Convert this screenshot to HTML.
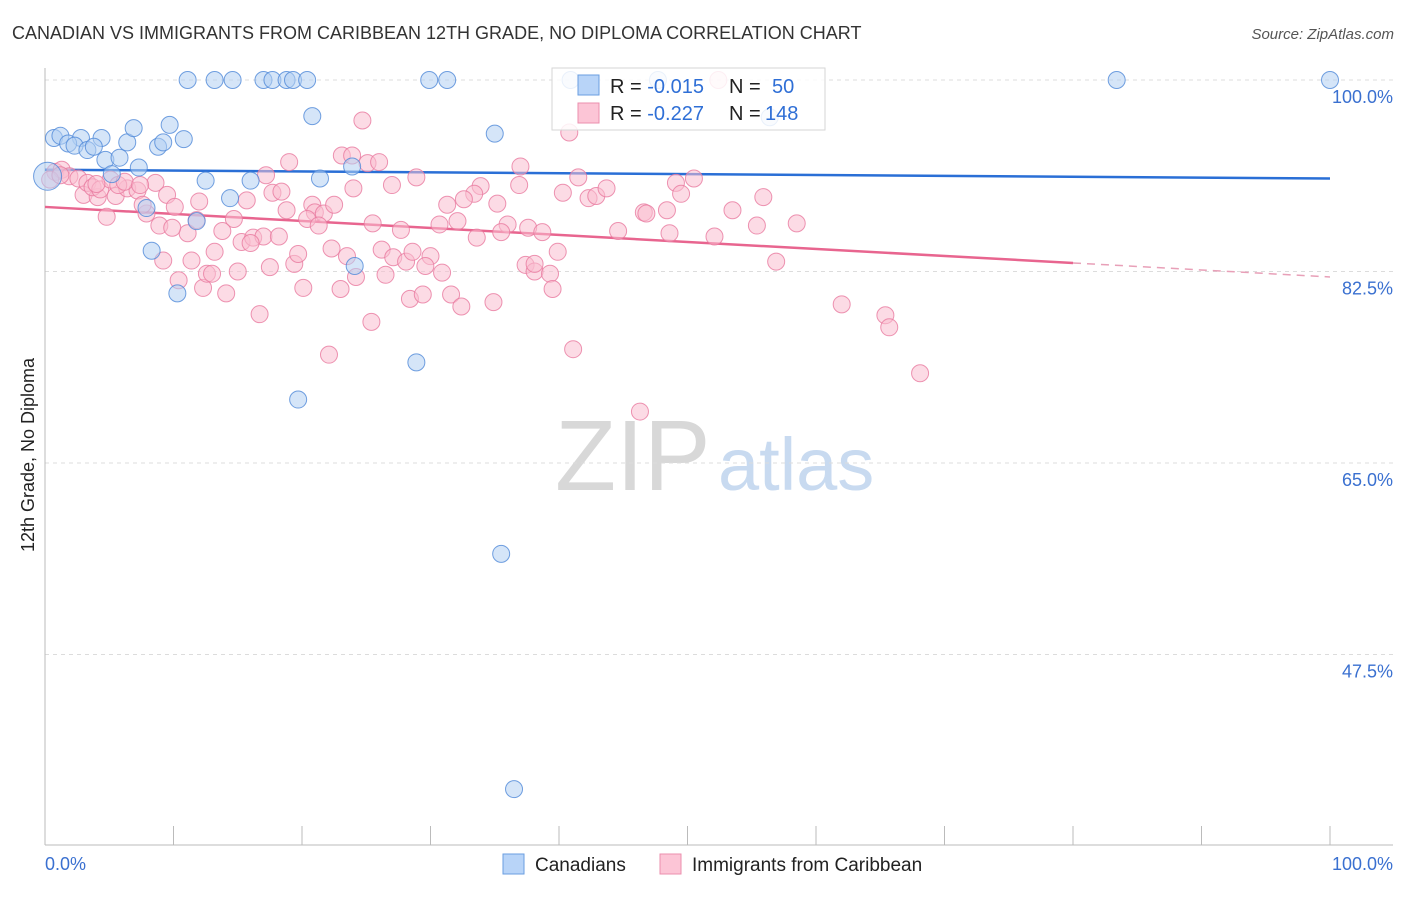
<!DOCTYPE html>
<html><head><meta charset="utf-8">
<style>
body{margin:0;background:#fff;font-family:"Liberation Sans",sans-serif;}
svg text{font-family:"Liberation Sans",sans-serif;}
</style></head>
<body>
<svg id="chart" width="1406" height="892" viewBox="0 0 1406 892" xmlns="http://www.w3.org/2000/svg">
<text x="12" y="39" font-size="18" fill="#333">CANADIAN VS IMMIGRANTS FROM CARIBBEAN 12TH GRADE, NO DIPLOMA CORRELATION CHART</text>
<text x="1394" y="39" font-size="15" fill="#555" font-style="italic" text-anchor="end">Source: ZipAtlas.com</text>
<text x="0" y="0" transform="translate(34,455) rotate(-90)" font-size="18" fill="#222" text-anchor="middle">12th Grade, No Diploma</text>
<g>
<text x="555" y="490" font-size="100" fill="#d8d8d8" font-family="Liberation Serif">ZIP</text>
<text x="718" y="490" font-size="74" fill="#c8daf0">atlas</text>
</g>
<g id="grid"></g>
<g id="axes"></g>
<g id="trend"></g>
<g id="pts"></g>
<g>
<rect x="552" y="68" width="273" height="62" fill="#fff" fill-opacity="0.85" stroke="#d6d6d6"/>
<rect x="578" y="75" width="21" height="20" fill="#b8d4f8" stroke="#6a9ee0"/>
<rect x="578" y="103" width="21" height="20" fill="#fcc5d6" stroke="#eb8fae"/>
<text x="610" y="93" font-size="20" fill="#222">R = <tspan fill="#2f6fd6">-0.015</tspan><tspan x="729">N = </tspan><tspan x="772" fill="#2f6fd6">50</tspan></text>
<text x="610" y="120" font-size="20" fill="#222">R = <tspan fill="#2f6fd6">-0.227</tspan><tspan x="729">N = </tspan><tspan x="765" fill="#2f6fd6">148</tspan></text>
</g>
<g>
<rect x="503" y="854" width="21" height="20" fill="#b8d4f8" stroke="#6a9ee0"/>
<text x="535" y="871" font-size="19" fill="#222">Canadians</text>
<rect x="660" y="854" width="21" height="20" fill="#fcc5d6" stroke="#eb8fae"/>
<text x="692" y="871" font-size="19" fill="#222">Immigrants from Caribbean</text>
</g>
</svg>
<script>
const yTicks=[100,82.5,65,47.5];
const yTickLabels=["100.0%","82.5%","65.0%","47.5%"];
const xTicks=[0,10,20,30,40,50,60,70,80,90,100];
const xEndLabels=["0.0%","100.0%"];
const canadians=[[11.1,100],[13.2,100],[14.6,100],[17.0,100],[17.7,100],[18.8,100],[19.3,100],[20.4,100],[29.9,100],[31.3,100],[40.9,100],[47.7,100],[83.4,100],[100,100],[56.4,96.6],[20.8,96.7],[35.0,95.1],[0.7,94.7],[1.2,94.9],[2.8,94.7],[4.4,94.7],[1.8,94.2],[2.3,94.0],[3.3,93.6],[3.8,93.9],[4.7,92.7],[5.8,92.9],[6.4,94.3],[6.9,95.6],[7.3,92.0],[8.8,93.9],[9.2,94.3],[9.7,95.9],[10.8,94.6],[5.2,91.4],[12.5,90.8],[14.4,89.2],[16.0,90.8],[21.4,91.0],[23.9,92.1],[7.9,88.3],[11.8,87.1],[8.3,84.4],[10.3,80.5],[24.1,83.0],[28.9,74.2],[19.7,70.8],[35.5,56.7],[36.5,35.2]];
const canadiansBig=[[0.2,91.2]];
const caribbean=[[24.7,96.3],[23.1,93.1],[23.9,93.1],[25.1,92.4],[26.0,92.5],[19.0,92.5],[17.2,91.3],[28.9,91.1],[27.0,90.4],[24.0,90.1],[37.0,92.1],[36.9,90.4],[33.9,90.3],[33.4,89.6],[32.6,89.1],[31.3,88.6],[35.2,88.7],[17.7,89.7],[18.4,89.8],[8.6,90.6],[9.5,89.5],[12.0,88.9],[15.7,89.0],[18.8,88.1],[20.8,88.6],[21.0,87.9],[21.7,87.8],[22.5,88.6],[20.4,87.3],[21.3,86.7],[25.5,86.9],[27.7,86.3],[30.7,86.8],[32.1,87.1],[36.0,86.8],[35.5,86.1],[37.6,86.5],[33.6,85.6],[14.7,87.3],[13.8,86.2],[15.3,85.2],[16.2,85.6],[17.0,85.7],[18.2,85.7],[16.0,85.1],[13.2,84.3],[22.3,84.6],[23.5,83.9],[26.2,84.5],[27.1,83.8],[28.1,83.4],[28.6,84.3],[30.0,83.9],[29.6,83.0],[30.9,82.4],[26.5,82.2],[24.2,82.0],[19.4,83.2],[19.7,84.1],[17.5,82.9],[15.0,82.5],[11.4,83.5],[9.2,83.5],[10.4,81.7],[12.3,81.0],[12.6,82.3],[13.0,82.3],[14.1,80.5],[20.1,81.0],[23.0,80.9],[28.4,80.0],[29.4,80.4],[31.6,80.4],[32.4,79.3],[34.9,79.7],[37.4,83.1],[38.1,82.5],[16.7,78.6],[25.4,77.9],[22.1,74.9],[4.8,87.5],[3.0,89.5],[4.1,89.3],[5.5,89.4],[6.4,90.1],[7.2,89.9],[7.9,87.8],[10.1,88.4],[11.1,86.0],[8.9,86.7],[9.9,86.5],[11.8,87.2],[7.6,88.6],[0.8,91.6],[1.3,91.8],[1.9,91.2],[2.6,91.0],[3.3,90.6],[3.7,90.2],[4.3,90.0],[5.1,90.9],[5.7,90.4],[6.2,90.7],[7.4,90.4],[4.0,90.5],[0.4,90.9],[1.2,91.3],[40.8,95.2],[41.5,91.1],[40.3,89.7],[42.3,89.2],[42.9,89.4],[43.7,90.1],[49.1,90.6],[50.5,91.0],[49.5,89.6],[55.9,89.3],[53.5,88.1],[48.4,88.1],[46.6,87.9],[46.8,87.8],[38.7,86.1],[44.6,86.2],[48.6,86.0],[52.1,85.7],[55.4,86.7],[58.5,86.9],[39.9,84.3],[38.1,83.2],[39.3,82.3],[39.5,80.9],[56.9,83.4],[62.0,79.5],[65.4,78.5],[65.7,77.4],[68.1,73.2],[41.1,75.4],[46.3,69.7],[52.4,100]];
const blueTrend=[91.8,91.0];
const pinkTrend=[88.4,82.0];
const pinkSolidEnd=80;

const NS="http://www.w3.org/2000/svg";
const X0=45,X1=1330,Y100=80,PXPER=191.5/17.5;
function sx(v){return X0+(X1-X0)*v/100;}
function sy(v){return Y100+(100-v)*PXPER;}
function mk(tag,attrs,parent){const e=document.createElementNS(NS,tag);for(const k in attrs)e.setAttribute(k,attrs[k]);parent.appendChild(e);return e;}
const grid=document.getElementById('grid'),axes=document.getElementById('axes'),trend=document.getElementById('trend'),pts=document.getElementById('pts');
yTicks.forEach((t,i)=>{
  const l=mk('line',{x1:45,x2:1393,y1:sy(t),y2:sy(t),stroke:'#dcdcdc','stroke-dasharray':'4,4'},grid);
  
  
  const tx=mk('text',{x:1393,y:sy(t)+23,'font-size':18,fill:'#3a70d0','text-anchor':'end'},axes);
  tx.textContent=yTickLabels[i];
  
  
});
const ya=mk('line',{x1:45,x2:45,y1:68,y2:845,stroke:'#bbb'},axes);


const xa=mk('line',{x1:45,x2:1393,y1:845,y2:845,stroke:'#bbb'},axes);


xTicks.forEach(t=>{
  const l=mk('line',{x1:sx(t),x2:sx(t),y1:826,y2:845,stroke:'#bbb'},axes);
  
  
});
const xl0=mk('text',{x:45,y:870,'font-size':18,fill:'#3a70d0'},axes);
xl0.textContent=xEndLabels[0];


const xl1=mk('text',{x:1393,y:870,'font-size':18,fill:'#3a70d0','text-anchor':'end'},axes);
xl1.textContent=xEndLabels[1];



function dot(d,r,fill,stroke,name){
  const c=mk('circle',{cx:sx(d[0]),cy:sy(d[1]),r:r,fill:fill,'fill-opacity':0.55,stroke:stroke,'stroke-opacity':0.8,'stroke-width':1},pts);
  
  
}
caribbean.forEach(d=>dot(d,8.5,'#f9bdd0','#e8799f','caribbean-point'));
canadians.forEach(d=>dot(d,8.5,'#b3cff3','#4f88d8','canadian-point'));
canadiansBig.forEach(d=>dot(d,14,'#b3cff3','#4f88d8','canadian-point-large'));

const bt=mk('line',{x1:sx(0),y1:sy(blueTrend[0]),x2:sx(100),y2:sy(blueTrend[1]),stroke:'#2a6fd6','stroke-width':2.5},trend);


const pm=pinkTrend[0]+(pinkTrend[1]-pinkTrend[0])*pinkSolidEnd/100;
const pt=mk('line',{x1:sx(0),y1:sy(pinkTrend[0]),x2:sx(pinkSolidEnd),y2:sy(pm),stroke:'#e8658f','stroke-width':2.5},trend);


const pd=mk('line',{x1:sx(pinkSolidEnd),y1:sy(pm),x2:sx(100),y2:sy(pinkTrend[1]),stroke:'#e8a0b8','stroke-width':1.5,'stroke-dasharray':'8,6'},trend);


</script>
</body></html>
